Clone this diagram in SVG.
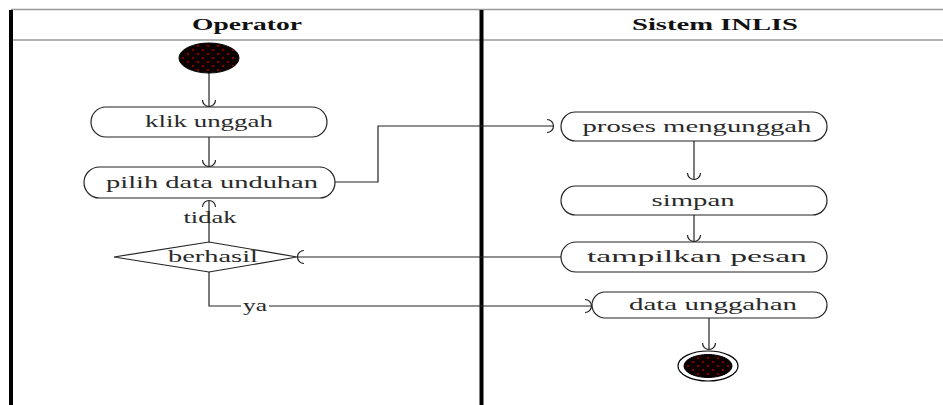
<svg xmlns="http://www.w3.org/2000/svg" width="943" height="405" viewBox="0 0 943 405">
<style>
.node{fill:#fff;stroke:#222;stroke-width:1.2}
.txt{font-family:"Liberation Serif",serif;font-size:17px;fill:#2a2a2a;text-anchor:middle}
.hdr{font-family:"Liberation Serif",serif;font-size:17px;font-weight:bold;fill:#111;text-anchor:middle}
.lane{stroke:#999;stroke-width:1.5;fill:none}
.bar{stroke:#000;stroke-width:4}
.edge{fill:none;stroke:#222;stroke-width:1.2;marker-end:url(#cup)}
</style>
<defs>
<marker id="cup" markerUnits="userSpaceOnUse" markerWidth="20" markerHeight="20" refX="0" refY="0" orient="auto" viewBox="-10 -10 20 20" overflow="visible">
<path d="M-6,-6.5 A6.5,6.5 0 0 1 -6,6.5" fill="none" stroke="#222" stroke-width="1.2"/>
</marker>
<pattern id="dots" patternUnits="userSpaceOnUse" width="10" height="8">
<rect width="10" height="8" fill="#0c0000"/>
<circle cx="3" cy="2" r="1.1" fill="#a00000"/>
<circle cx="8" cy="6" r="1.1" fill="#a00000"/>
</pattern>
</defs>
<rect width="943" height="405" fill="#fff"/>
<g id="lanes">
<line class="lane" x1="11" y1="9.5" x2="943" y2="9.5"/>
<line class="lane" x1="11" y1="40" x2="943" y2="40"/>
<line class="bar" x1="11" y1="10" x2="11" y2="405"/>
<line class="bar" x1="481.5" y1="10" x2="481.5" y2="405"/>
<text class="hdr" x="247" y="30" textLength="110" lengthAdjust="spacingAndGlyphs">Operator</text>
<text class="hdr" x="715" y="30" textLength="166" lengthAdjust="spacingAndGlyphs">Sistem INLIS</text>
</g>
<g id="connectors">
<path class="edge" d="M209,73 V106"/>
<path class="edge" d="M209,137 V166"/>
<path class="edge" d="M335,182 H378 V126 H553"/>
<path class="edge" d="M694,141 V179"/>
<path class="edge" d="M694,215 V241"/>
<path class="edge" d="M561,257 H298"/>
<path class="edge" d="M209,242 V201"/>
<path class="edge" d="M209,272 V306 H591"/>
<path class="edge" d="M709,318 V349"/>
<text class="txt" x="210" y="223" textLength="53" lengthAdjust="spacingAndGlyphs">tidak</text>
<rect x="241" y="301" width="28" height="11" fill="#fff"/>
<text class="txt" x="255" y="311" textLength="24" lengthAdjust="spacingAndGlyphs">ya</text>
</g>
<g id="start">
<ellipse cx="209" cy="58" rx="30" ry="15" fill="url(#dots)" stroke="#000" stroke-width="1"/>
</g>
<g id="klik-unggah">
<rect class="node" x="91" y="107" width="236" height="30" rx="15"/>
<text class="txt" x="209" y="127" textLength="128" lengthAdjust="spacingAndGlyphs">klik unggah</text>
</g>
<g id="pilih-data">
<rect class="node" x="84" y="167" width="251" height="31" rx="15.5"/>
<text class="txt" x="212" y="188" textLength="212" lengthAdjust="spacingAndGlyphs">pilih data unduhan</text>
</g>
<g id="berhasil">
<polygon class="node" points="114,257 209,242 297,257 209,272"/>
<text class="txt" x="213" y="262" textLength="90" lengthAdjust="spacingAndGlyphs">berhasil</text>
</g>
<g id="proses">
<rect class="node" x="561" y="112" width="266" height="29" rx="14.5"/>
<text class="txt" x="697" y="132" textLength="229" lengthAdjust="spacingAndGlyphs">proses mengunggah</text>
</g>
<g id="simpan">
<rect class="node" x="561" y="186" width="266" height="29" rx="14.5"/>
<text class="txt" x="693" y="206" textLength="83" lengthAdjust="spacingAndGlyphs">simpan</text>
</g>
<g id="tampilkan">
<rect class="node" x="561" y="242" width="266" height="30" rx="15"/>
<text class="txt" x="697" y="262" textLength="220" lengthAdjust="spacingAndGlyphs">tampilkan pesan</text>
</g>
<g id="data-unggahan">
<rect class="node" x="592" y="292" width="235" height="26" rx="13"/>
<text class="txt" x="713" y="310" textLength="168" lengthAdjust="spacingAndGlyphs">data unggahan</text>
</g>
<g id="end">
<ellipse cx="708" cy="366" rx="30" ry="15" fill="#fff" stroke="#000" stroke-width="1.2"/>
<ellipse cx="708" cy="366" rx="24" ry="11.5" fill="url(#dots)" stroke="#000" stroke-width="1"/>
</g>
</svg>
